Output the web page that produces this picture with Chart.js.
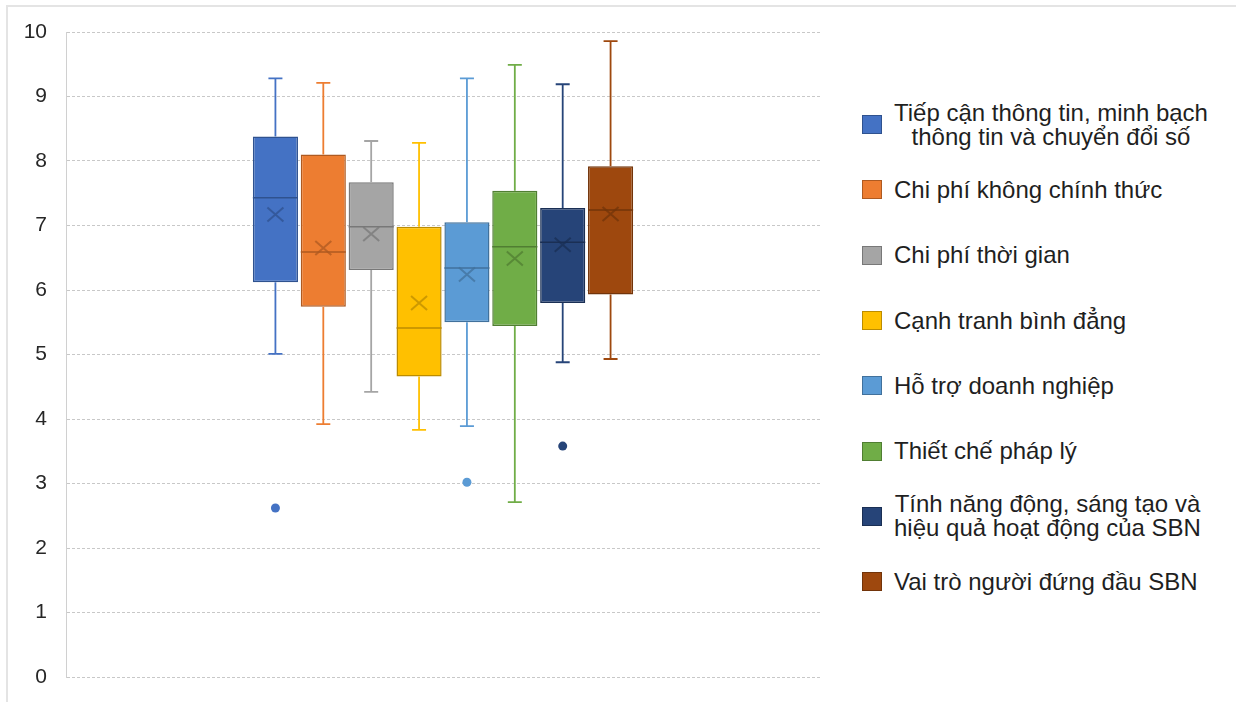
<!DOCTYPE html>
<html>
<head>
<meta charset="utf-8">
<script src="https://cdn.jsdelivr.net/npm/chart.js@4"></script>
<style>
  body { margin: 0; background: #fff; font-family: "Liberation Sans", Arial, sans-serif; }
  #wrap { position: relative; width: 1236px; height: 702px; overflow: hidden; }
  #frame { position: absolute; left: 6px; top: 5px; right: 0; bottom: 0;
           border-left: 2px solid #e4e4e4; border-top: 2px solid #e4e4e4; }
  #boxChart { position: absolute; left: 0; top: 0; }
  #legend { position: absolute; left: 862px; top: 92px; }
  .item { height: 65.3px; display: flex; align-items: center; }
  .swatch { width: 20px; height: 19px; box-sizing: border-box; border: 1px solid; margin-right: 12px; flex: none; }
  .txt { white-space: pre-line; text-align: center; font-size: 24px; line-height: 24px; color: #1f1f1f; }
</style>
</head>
<body>
<div id="wrap">
  <div id="frame"></div>
  <canvas id="boxChart" width="840" height="702"></canvas>
  <div id="legend"></div>
</div>
<script>
// series names (line breaks as in the legend)
const seriesNames = [
    'Tiếp cận thông tin, minh bạch\nthông tin và chuyển đổi số',
    'Chi phí không chính thức',
    'Chi phí thời gian',
    'Cạnh tranh bình đẳng',
    'Hỗ trợ doanh nghiệp',
    'Thiết chế pháp lý',
    'Tính năng động, sáng tạo và\nhiệu quả hoạt động của SBN',
    'Vai trò người đứng đầu SBN',
];

// box plot statistics
const mins = [5.01, 3.92, 4.42, 3.83, 3.89, 2.71, 4.88, 4.93];
const q1s = [6.12, 5.74, 6.31, 4.66, 5.50, 5.44, 5.80, 5.93];
const medians = [7.43, 6.59, 6.98, 5.41, 6.34, 6.67, 6.74, 7.24];
const q3s = [8.38, 8.10, 7.67, 6.98, 7.05, 7.54, 7.27, 7.92];
const maxs = [9.28, 9.21, 8.31, 8.28, 9.28, 9.49, 9.19, 9.86];
const means = [7.17, 6.65, 6.87, 5.80, 6.24, 6.49, 6.70, 7.18];
const outliers = [[2.62], [], [], [], [3.02], [], [3.58], []];

const yTicks = [0, 1, 2, 3, 4, 5, 6, 7, 8, 9, 10];

const fills = ['#4472C4', '#ED7D31', '#A5A5A5', '#FFC000', '#5B9BD5', '#70AD47', '#264478', '#9E480E'];
const darks = ['#2F528F', '#AE5A21', '#787878', '#BC8C00', '#41719C', '#507E32', '#1A2F54', '#72340A'];

const datasets = seriesNames.map((name, i) => ({
    label: name,
    data: [[q1s[i], q3s[i]]],
    backgroundColor: fills[i],
    borderColor: darks[i],
    borderWidth: 1.5,
    borderSkipped: false,
    categoryPercentage: 0.508,
    barPercentage: 0.942,
}));

// whiskers, medians, means and outliers, placed with the chart's own scales
const boxExtras = {
    id: 'boxExtras',
    afterDatasetsDraw(chart) {
        const ctx = chart.ctx;
        const y = chart.scales.y;
        chart.data.datasets.forEach((ds, i) => {
            const bar = chart.getDatasetMeta(i).data[0];
            const x = bar.x, half = bar.width / 2;
            ctx.save();
            // whiskers
            ctx.strokeStyle = fills[i];
            ctx.lineWidth = 1.8;
            ctx.beginPath();
            ctx.moveTo(x, y.getPixelForValue(maxs[i]));
            ctx.lineTo(x, y.getPixelForValue(q3s[i]));
            ctx.moveTo(x, y.getPixelForValue(q1s[i]));
            ctx.lineTo(x, y.getPixelForValue(mins[i]));
            ctx.moveTo(x - 7, y.getPixelForValue(maxs[i]));
            ctx.lineTo(x + 7, y.getPixelForValue(maxs[i]));
            ctx.moveTo(x - 7, y.getPixelForValue(mins[i]));
            ctx.lineTo(x + 7, y.getPixelForValue(mins[i]));
            ctx.stroke();
            // median
            ctx.strokeStyle = darks[i];
            ctx.lineWidth = 1.5;
            ctx.beginPath();
            ctx.moveTo(x - half, y.getPixelForValue(medians[i]));
            ctx.lineTo(x + half, y.getPixelForValue(medians[i]));
            ctx.stroke();
            // mean marker
            const my = y.getPixelForValue(means[i]);
            ctx.globalAlpha = 0.75;
            ctx.lineWidth = 2;
            ctx.beginPath();
            ctx.moveTo(x - 8, my - 7);
            ctx.lineTo(x + 8, my + 7);
            ctx.moveTo(x + 8, my - 7);
            ctx.lineTo(x - 8, my + 7);
            ctx.stroke();
            ctx.globalAlpha = 1;
            // outliers
            ctx.fillStyle = fills[i];
            outliers[i].forEach(v => {
                ctx.beginPath();
                ctx.arc(x, y.getPixelForValue(v), 4.5, 0, Math.PI * 2);
                ctx.fill();
            });
            ctx.restore();
        });
    }
};

const ctx = document.getElementById('boxChart').getContext('2d');
const boxChart = new Chart(ctx, {
    type: 'bar',
    data: { labels: [''], datasets: datasets },
    plugins: [boxExtras],
    options: {
        responsive: false,
        animation: false,
        layout: { padding: { left: 0, right: 20, top: 32, bottom: 25 } },
        plugins: {
            legend: { display: false },
            tooltip: { enabled: false },
        },
        scales: {
            x: { display: false },
            y: {
                min: 0,
                max: 10,
                afterFit: s => { s.width = 66; },
                afterBuildTicks: s => { s.ticks = yTicks.map(v => ({ value: v })); },
                ticks: {
                    padding: 0,
                    color: '#262626',
                    font: { family: 'Liberation Sans', size: 21 },
                },
                grid: {
                    color: '#c8c8c8',
                    lineWidth: 1,
                    drawTicks: true,
                    tickLength: 19,
                    tickColor: 'rgba(0,0,0,0)',
                },
                border: { display: true, color: '#d0d0d0', dash: [3, 2] },
            },
        },
    },
});

// legend
const legend = document.getElementById('legend');
seriesNames.forEach((name, i) => {
    const row = document.createElement('div');
    row.className = 'item';
    const sw = document.createElement('div');
    sw.className = 'swatch';
    sw.style.background = fills[i];
    sw.style.borderColor = darks[i];
    const t = document.createElement('div');
    t.className = 'txt';
    t.textContent = name;
    row.appendChild(sw);
    row.appendChild(t);
    legend.appendChild(row);
});
</script>
</body>
</html>
